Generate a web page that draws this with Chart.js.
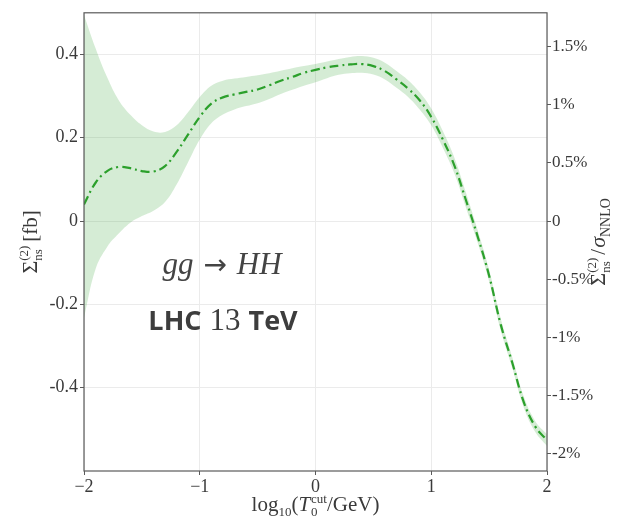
<!DOCTYPE html>
<html>
<head>
<meta charset="utf-8">
<script src="https://cdn.jsdelivr.net/npm/chart.js@4/dist/chart.umd.min.js"></script>
<style>
html,body{margin:0;padding:0;background:#fff;}
#wrap{width:625px;height:521px;position:relative;}
</style>
</head>
<body>
<div id="wrap"><canvas id="c" width="625" height="521"></canvas></div>
<script>
// ---- data ----
const xValues = [-2.0,-1.9,-1.8,-1.7,-1.6,-1.5,-1.4,-1.3,-1.2,-1.1,-1.0,-0.9,-0.8,-0.7,-0.6,-0.5,-0.4,-0.3,-0.2,-0.1,0.0,0.1,0.2,0.3,0.4,0.5,0.6,0.7,0.8,0.9,1.0,1.1,1.2,1.3,1.4,1.5,1.6,1.7,1.8,1.9,2.0];
const central = [0.040,0.092,0.120,0.130,0.127,0.120,0.119,0.132,0.166,0.208,0.250,0.282,0.297,0.304,0.310,0.316,0.326,0.337,0.346,0.356,0.363,0.369,0.373,0.376,0.377,0.372,0.360,0.340,0.318,0.290,0.250,0.196,0.133,0.050,-0.036,-0.131,-0.248,-0.340,-0.435,-0.494,-0.526];
const upper   = [0.495,0.415,0.345,0.290,0.255,0.230,0.215,0.214,0.230,0.262,0.298,0.325,0.337,0.342,0.346,0.350,0.355,0.361,0.367,0.372,0.377,0.383,0.389,0.394,0.396,0.392,0.380,0.360,0.338,0.309,0.270,0.216,0.152,0.068,-0.021,-0.117,-0.234,-0.327,-0.422,-0.481,-0.512];
const lower   = [-0.232,-0.115,-0.062,-0.030,-0.004,0.012,0.025,0.046,0.088,0.142,0.196,0.235,0.256,0.268,0.276,0.283,0.293,0.305,0.315,0.325,0.333,0.343,0.351,0.355,0.356,0.352,0.340,0.320,0.298,0.268,0.230,0.176,0.114,0.032,-0.051,-0.145,-0.262,-0.353,-0.448,-0.507,-0.540];
const xTicks = [-2,-1,0,1,2];
const yTicks = [-0.4,-0.2,0,0.2,0.4];
const pctTicks = [-2,-1.5,-1,-0.5,0,0.5,1,1.5];
const sigmaNNLO = 27.92; // fb, from the right-axis scale
const yMin = -0.6, yMax = 0.5;

const toPts = arr => xValues.map((x,i)=>({x:x, y:arr[i]}));
const serif = '"Liberation Serif", "DejaVu Serif", serif';
const sans = '"Open Sans", "Noto Sans", sans-serif';
const txtColor = '#3a3a3a';

function drawRich(ctx, parts, x, y, rot, color) {
  ctx.save();
  ctx.translate(x, y);
  ctx.rotate(rot);
  ctx.textBaseline = 'alphabetic';
  ctx.textAlign = 'left';
  ctx.fillStyle = color;
  const widths = parts.map(p => {
    ctx.font = p.font;
    if (p.stack) return Math.max(ctx.measureText(p.sup).width, ctx.measureText(p.sub).width) + (p.gap||0);
    return ctx.measureText(p.t).width + (p.gap||0);
  });
  const total = widths.reduce((a,b)=>a+b,0);
  let cx = -total/2;
  parts.forEach((p,i) => {
    ctx.font = p.font;
    if (p.stack) { ctx.fillText(p.sup, cx, p.up); ctx.fillText(p.sub, cx, p.down); }
    else ctx.fillText(p.t, cx, p.dy||0);
    cx += widths[i];
  });
  ctx.restore();
}

const extras = {
  id: 'extras',
  afterDatasetsDraw(chart) {
    const ctx = chart.ctx, a = chart.chartArea;
    ctx.save();
    ctx.strokeStyle = '#5a5a5a';
    ctx.lineWidth = 1.2;
    ctx.strokeRect(a.left, a.top, a.right - a.left, a.bottom - a.top);
    ctx.restore();
    const midY = (a.top + a.bottom) / 2;
    drawRich(ctx, [
      {t:'Σ', font:'22px ' + serif},
      {stack:true, sup:'(2)', sub:'ns', up:-9, down:5, font:'13px ' + serif, gap:4},
      {t:'[fb]', font:'21px ' + serif}
    ], 37, midY, -Math.PI/2, txtColor);
    drawRich(ctx, [
      {t:'Σ', font:'22px ' + serif},
      {stack:true, sup:'(2)', sub:'ns', up:-9, down:5, font:'13px ' + serif, gap:3},
      {t:'/', font:'21px ' + serif, gap:1},
      {t:'σ', font:'italic 22px ' + serif},
      {t:'NNLO', font:'14px ' + serif, dy:5}
    ], 605, midY, -Math.PI/2, txtColor);
    drawRich(ctx, [
      {t:'log', font:'21px ' + serif},
      {t:'10', font:'13px ' + serif, dy:5},
      {t:'(', font:'21px ' + serif},
      {t:'T', font:'italic 21px ' + serif, gap:1},
      {stack:true, sup:'cut', sub:'0', up:-8, down:5, font:'13px ' + serif},
      {t:'/GeV)', font:'21px ' + serif}
    ], (a.left + a.right)/2, 511, 0, txtColor);
    drawRich(ctx, [
      {t:'gg', font:'italic 31px ' + serif, gap:10},
      {t:'→', font:'28px "DejaVu Sans", sans-serif', gap:10},
      {t:'HH', font:'italic 31px ' + serif}
    ], 222, 274, 0, '#444');
    drawRich(ctx, [
      {t:'LHC', font:'bold 27px ' + sans, gap:8},
      {t:'13', font:'31px ' + serif, gap:8},
      {t:'TeV', font:'bold 27px ' + sans}
    ], 223, 330, 0, '#3d3d3d');
  }
};

new Chart(document.getElementById('c'), {
  type: 'line',
  data: {
    datasets: [
      {data: toPts(upper), borderWidth: 0, pointRadius: 0, fill: '+1', backgroundColor: 'rgba(44,160,44,0.2)', borderColor: 'rgba(0,0,0,0)', tension: 0.4},
      {data: toPts(lower), borderWidth: 0, pointRadius: 0, fill: false, borderColor: 'rgba(0,0,0,0)', tension: 0.4},
      {data: toPts(central), borderWidth: 2.2, pointRadius: 0, fill: false, borderColor: '#2ca02c', borderDash: [9,4,2,4], tension: 0.4}
    ]
  },
  options: {
    responsive: false,
    animation: false,
    layout: {padding: {top: 11, left: 0, right: 0, bottom: 0}},
    plugins: {legend: {display: false}, tooltip: {enabled: false}},
    scales: {
      x: {
        type: 'linear', min: -2, max: 2,
        afterBuildTicks: s => { s.ticks = xTicks.map(v=>({value:v})); },
        afterFit: s => { s.height = 50; },
        border: {display: false},
        grid: {color: '#ebebeb', lineWidth: 1, tickLength: 4, tickColor: '#5a5a5a'},
        ticks: {color: txtColor, font: {family: serif, size: 18}, padding: 1, maxRotation: 0,
          callback: v => (v < 0 ? '−' + Math.abs(v) : String(v))}
      },
      y: {
        type: 'linear', position: 'left', min: yMin, max: yMax,
        afterBuildTicks: s => { s.ticks = yTicks.map(v=>({value:v})); },
        afterFit: s => { s.width = 84; },
        border: {display: false},
        grid: {color: '#ebebeb', lineWidth: 1, tickLength: 4, tickColor: '#5a5a5a'},
        ticks: {color: txtColor, font: {family: serif, size: 18}, padding: 2,
          callback: v => (Math.abs(v) < 1e-9 ? '0' : (Math.round(v*10)/10).toString())}
      },
      y2: {
        type: 'linear', position: 'right', min: yMin / sigmaNNLO * 100, max: yMax / sigmaNNLO * 100,
        afterBuildTicks: s => { s.ticks = pctTicks.map(v=>({value:v})); },
        afterFit: s => { s.width = 78; },
        border: {display: false},
        grid: {drawOnChartArea: false, tickLength: 4, tickColor: '#5a5a5a'},
        ticks: {color: txtColor, font: {family: serif, size: 17}, padding: 1,
          callback: v => (Math.abs(v) < 1e-9 ? '0' : v + '%')}
      }
    }
  },
  plugins: [extras]
});
</script>
</body>
</html>
